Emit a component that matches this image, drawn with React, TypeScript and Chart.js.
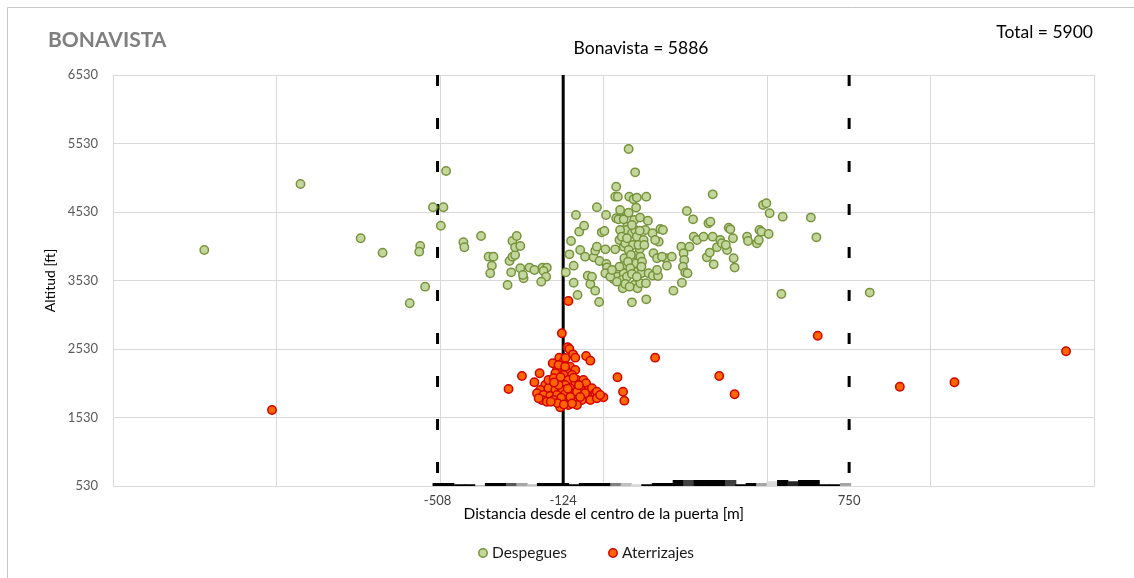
import React, { useEffect, useRef } from 'react';
import { Chart, registerables } from 'chart.js';

Chart.register(...registerables);

const chartTitle = 'BONAVISTA';
const subTitle = 'Bonavista = 5886';
const totalLabel = 'Total = 5900';
const xTitle = 'Distancia desde el centro de la puerta [m]';
const yTitle = 'Altitud [ft]';
const seriesNames = ['Despegues', 'Aterrizajes'];

const yMin = 530;
const yMax = 6530;
const yStep = 1000;
const xMin = -1500;
const xMax = 1500;
const xGridValues = [-1500, -1000, -500, 0, 500, 1000, 1500];
const xLabelValues = [-508, -124, 750];
const solidLineX = -124;
const dashedLineX = [-508, 750];

// Despegues (take-offs): [distance m, altitude ft]
const despegues: [number, number][] = [
  [-1221, 3976], [-927, 4939], [-743, 4146], [-676, 3936], [-561, 4034], [-564, 3951], [-482, 5129],
  [-522, 4599], [-490, 4599], [-498, 4330], [-546, 3440], [-593, 3197], [-429, 4088], [-426, 4015],
  [-375, 4180], [-352, 3878], [-337, 3878], [-342, 3746], [-347, 3635],
  [-294, 3464], [-283, 3649], [-288, 3815], [-279, 3878], [-271, 3902], [-279, 4107], [-266, 4180],
  [-271, 4014], [-255, 4034], [-255, 3708], [-245, 3562], [-247, 3611], [-227, 3718], [-212, 3684],
  [-187, 3718], [-174, 3718], [-184, 3669], [-176, 3586], [-191, 3513],
  [-116, 3649], [-105, 3912], [-100, 4107], [-85, 4487], [-75, 4243], [-60, 4331], [-72, 3976],
  [-92, 3747], [-92, 3498], [-80, 3318], [-57, 3878], [-49, 3601], [-41, 3479], [-26, 3382],
  [-36, 3586], [-31, 3868], [-26, 3966], [-21, 4024], [-21, 4599], [-14, 3216], [-13, 3815],
  [-6, 4233], [2, 4253], [5, 3985], [7, 4487], [8, 3771], [10, 3722], [5, 3635], [30, 3552],
  [35, 3985], [40, 3684], [42, 3586], [35, 4754], [43, 4754], [38, 4900], [48, 4121], [50, 4560],
  [55, 4438], [61, 4024], [66, 4073], [61, 3757], [63, 3854], [61, 3635], [58, 3416], [71, 4316],
  [69, 4268], [76, 5450], [78, 4754], [86, 4219], [89, 4048], [91, 4715], [93, 4414], [96, 5109],
  [101, 4740], [99, 4594], [96, 4268], [101, 4170], [103, 3902], [99, 3781], [94, 3659], [93, 3464],
  [86, 3211], [103, 3416], [111, 4448], [110, 3990], [112, 3878], [117, 3805], [115, 3635], [112, 3489],
  [122, 4121], [127, 4268], [129, 3489], [130, 4754], [130, 3255], [135, 4404], [137, 3635], [150, 3601],
  [152, 3927], [149, 4219], [163, 3854], [166, 3596], [168, 4097], [173, 4282], [181, 4268], [190, 3854],
  [193, 3747], [208, 3878], [213, 3382], [237, 4024], [239, 3498], [244, 3927], [246, 3830], [242, 3732],
  [249, 3645], [256, 3635], [254, 4545], [262, 4024], [273, 4423], [275, 4170], [285, 4121], [305, 4170],
  [315, 3868], [320, 4365], [326, 4389], [324, 3937], [333, 4170], [336, 3766], [333, 4788], [346, 4014],
  [356, 4121], [361, 4073], [377, 3976], [373, 4048], [382, 4301], [387, 4277], [395, 4146], [397, 3854],
  [400, 3718], [438, 4170], [441, 4107], [468, 4073], [476, 4268], [482, 4243], [474, 4121], [487, 4632],
  [497, 4657], [504, 4209], [507, 4511], [543, 3333], [547, 4462], [633, 4448], [650, 4160], [813, 3353],
  [50, 4268], [55, 4170], [71, 4146], [76, 3976], [83, 3902], [74, 3805], [81, 3708], [48, 3732],
  [55, 3537], [71, 3586], [86, 3625], [101, 3586], [115, 3732], [106, 4048], [124, 4048], [86, 4340],
  [110, 4258], [38, 4438], [45, 4423], [61, 4423], [76, 4520], [40, 3513], [66, 3479], [79, 3440],
  [20, 3586], [25, 3684], [157, 4121], [178, 3878], [163, 3684],
];

// Aterrizajes (landings): [distance m, altitude ft]
const aterrizajes: [number, number][] = [
  [-128, 2759], [-110, 2555], [-105, 2530], [-94, 2452], [-87, 2404], [-54, 2428], [-41, 2360],
  [-136, 2404], [-156, 2321], [-250, 2136], [-196, 2175], [-212, 2044], [-291, 1946], [157, 2404],
  [42, 2117], [59, 1907], [63, 1776], [-1, 1824],
  [-123, 2345], [-103, 2272], [-143, 2224], [-113, 2199], [-87, 2224], [-148, 2175], [-123, 2151],
  [-97, 2151], [-133, 2078], [-108, 2078], [-82, 2078], [-62, 2078], [-54, 2029], [-179, 2005],
  [-158, 2005], [-118, 2005], [-87, 2029], [-194, 1932], [-169, 1956], [-148, 1932], [-128, 1932],
  [-103, 1956], [-72, 1956], [-46, 1932], [-36, 1956], [-26, 1883], [-21, 1907], [-204, 1883],
  [-184, 1858], [-164, 1844], [-143, 1858], [-118, 1873], [-97, 1883], [-77, 1858], [-52, 1810],
  [-67, 1786], [-41, 1786], [-189, 1786], [-174, 1761], [-153, 1786], [-133, 1761], [-113, 1786],
  [-92, 1761], [-133, 1678], [-108, 1713], [-82, 1713], [-21, 1810], [-11, 1858], [-199, 1810],
  [-82, 1907], [-57, 1883], [-138, 2005], [-169, 2078], [-153, 2102], [-138, 2297], [-118, 2272],
  [-130, 1820], [-102, 1830], [-142, 1740], [-122, 1720], [-97, 1735], [-72, 1830], [-162, 1760],
  [-110, 1950], [-132, 2120], [-92, 2110], [-117, 2400], [-76, 2000], [-152, 2040],
  [-1014, 1640], [-108, 3231], [353, 2136], [400, 1869], [654, 2724], [905, 1980], [1072, 2044],
  [1413, 2497],
];

// Small distribution bars along the base of the plot
const histX = [
  -506, -474, -442, -410, -378, -346, -314, -282, -250, -218, -187, -155, -123, -91, -59, -27, 5, 37, 69, 101,
  132, 164, 196, 228, 260, 292, 324, 356, 388, 419, 451, 483, 515, 547, 579, 611, 643, 675, 707, 739,
];
const histTop = [
  570, 570, 550, 550, 530, 570, 570, 570, 570, 550, 570, 570, 570, 550, 570, 570, 570, 570, 570, 550,
  550, 570, 570, 612, 612, 612, 612, 612, 612, 550, 570, 570, 596, 612, 596, 612, 612, 550, 550, 570,
];
const histShade = [
  '#000000', '#000000', '#000000', '#000000', '#000000', '#000000', '#000000', '#595959', '#a6a6a6', '#bfbfbf',
  '#000000', '#000000', '#000000', '#000000', '#000000', '#000000', '#000000', '#7f7f7f', '#bfbfbf', '#d9d9d9',
  '#000000', '#000000', '#000000', '#000000', '#404040', '#000000', '#000000', '#000000', '#404040', '#000000',
  '#000000', '#a6a6a6', '#d9d9d9', '#000000', '#262626', '#000000', '#000000', '#000000', '#000000', '#a6a6a6',
];

const FONT = 'Lato, "Open Sans", sans-serif';

const decorPlugin = {
  id: 'decor',
  afterDraw(chart: any) {
    const ctx = chart.ctx;
    ctx.save();
    // outer frame
    ctx.strokeStyle = '#c8c8c8';
    ctx.lineWidth = 1;
    ctx.beginPath();
    ctx.moveTo(7.5, 578);
    ctx.lineTo(7.5, 7.5);
    ctx.lineTo(1134, 7.5);
    ctx.stroke();
    // titles
    ctx.textBaseline = 'middle';
    ctx.fillStyle = '#7f7f7f';
    ctx.font = `bold 21px ${FONT}`;
    ctx.textAlign = 'left';
    ctx.fillText(chartTitle, 48, 40);
    ctx.fillStyle = '#000000';
    ctx.font = `17.5px ${FONT}`;
    ctx.textAlign = 'center';
    ctx.fillText(subTitle, 641, 48);
    ctx.textAlign = 'right';
    ctx.fillText(totalLabel, 1093, 32);
    // legend (Despegues first, then Aterrizajes)
    const byName = (n: string) => chart.data.datasets.find((d: any) => d.label === n);
    const markerX = [483, 613];
    ctx.font = `15.5px ${FONT}`;
    ctx.textAlign = 'left';
    seriesNames.forEach((name, i) => {
      const ds: any = byName(name);
      ctx.beginPath();
      ctx.arc(markerX[i], 553, 4.2, 0, Math.PI * 2);
      ctx.fillStyle = ds.backgroundColor;
      ctx.fill();
      ctx.lineWidth = 1.5;
      ctx.strokeStyle = ds.borderColor;
      ctx.stroke();
      ctx.fillStyle = '#1a1a1a';
      ctx.fillText(ds.label, markerX[i] + 9, 553);
    });
    ctx.restore();
  },
};

export default function App() {
  const ref = useRef<HTMLCanvasElement | null>(null);
  useEffect(() => {
    if (!ref.current) return;
    const xTickValues = Array.from(new Set([...xGridValues, ...xLabelValues])).sort((a, b) => a - b);
    const chart = new Chart(ref.current, {
      type: 'scatter',
      data: {
        datasets: [
          {
            label: seriesNames[1],
            data: aterrizajes.map(([x, y]) => ({ x, y })),
            backgroundColor: '#ff6600',
            borderColor: '#d40000',
            borderWidth: 1.5,
            pointRadius: 4.2,
            order: 0,
          } as any,
          {
            label: seriesNames[0],
            data: despegues.map(([x, y]) => ({ x, y })),
            backgroundColor: '#c3d69b',
            borderColor: '#77933c',
            borderWidth: 1.5,
            pointRadius: 4.2,
            order: 1,
          },
          {
            type: 'line',
            label: 'solid',
            data: [{ x: solidLineX, y: yMax }, { x: solidLineX, y: yMin }],
            borderColor: '#000000',
            borderWidth: 3,
            pointRadius: 0,
            order: 2,
          },
          ...dashedLineX.map((lx) => ({
            type: 'line',
            label: 'dashed',
            data: [{ x: lx, y: yMax }, { x: lx, y: yMin }],
            borderColor: '#000000',
            borderWidth: 3,
            borderDash: [11, 32],
            borderCapStyle: 'butt',
            pointRadius: 0,
            order: 2,
          })),
          {
            type: 'bar',
            label: 'hist',
            data: histX.map((x, i) => ({ x, y: [yMin, histTop[i]] })),
            backgroundColor: histShade,
            borderWidth: 0,
            barThickness: 10.6,
            order: 3,
          },
        ] as any,
      },
      options: {
        animation: false,
        responsive: false,
        events: [],
        layout: { padding: { left: 41.6, right: 39.5, top: 75, bottom: 55 } },
        plugins: {
          legend: { display: false },
          title: { display: false },
          tooltip: { enabled: false },
        },
        scales: {
          x: {
            type: 'linear',
            min: xMin,
            max: xMax,
            offset: false,
            afterBuildTicks: (scale: any) => {
              scale.ticks = xTickValues.map((v) => ({ value: v }));
            },
            afterFit: (scale: any) => {
              scale.height = 37;
            },
            grid: {
              offset: false,
              drawTicks: false,
              color: (c: any) => (c.tick && xGridValues.includes(c.tick.value) ? '#d9d9d9' : 'rgba(0,0,0,0)'),
              lineWidth: 1,
            },
            border: { color: '#d9d9d9' },
            ticks: {
              autoSkip: false,
              maxRotation: 0,
              padding: 7,
              color: '#404040',
              font: { family: FONT, size: 13 },
              callback: (v: any) => (xLabelValues.includes(Number(v)) ? String(v) : ''),
            },
            title: {
              display: true,
              text: xTitle,
              color: '#000000',
              font: { family: FONT, size: 15.5 },
              padding: 0,
            },
          },
          y: {
            type: 'linear',
            min: yMin,
            max: yMax,
            afterFit: (scale: any) => {
              scale.width = 113 - 41.6;
            },
            grid: { color: '#d9d9d9', drawTicks: false, lineWidth: 1 },
            border: { color: '#d9d9d9' },
            ticks: {
              stepSize: yStep,
              padding: 15,
              color: '#595959',
              font: { family: FONT, size: 13 },
              callback: (v: any) => String(v),
            },
            title: {
              display: true,
              text: yTitle,
              color: '#000000',
              font: { family: FONT, size: 14 },
              padding: 0,
            },
          },
        },
      } as any,
      plugins: [decorPlugin],
    });
    return () => chart.destroy();
  }, []);

  return (
    <div style={{ position: 'absolute', left: 0, top: 0, width: 1134, height: 578, background: '#ffffff' }}>
      <canvas ref={ref} width={1134} height={578} style={{ display: 'block' }} />
    </div>
  );
}
